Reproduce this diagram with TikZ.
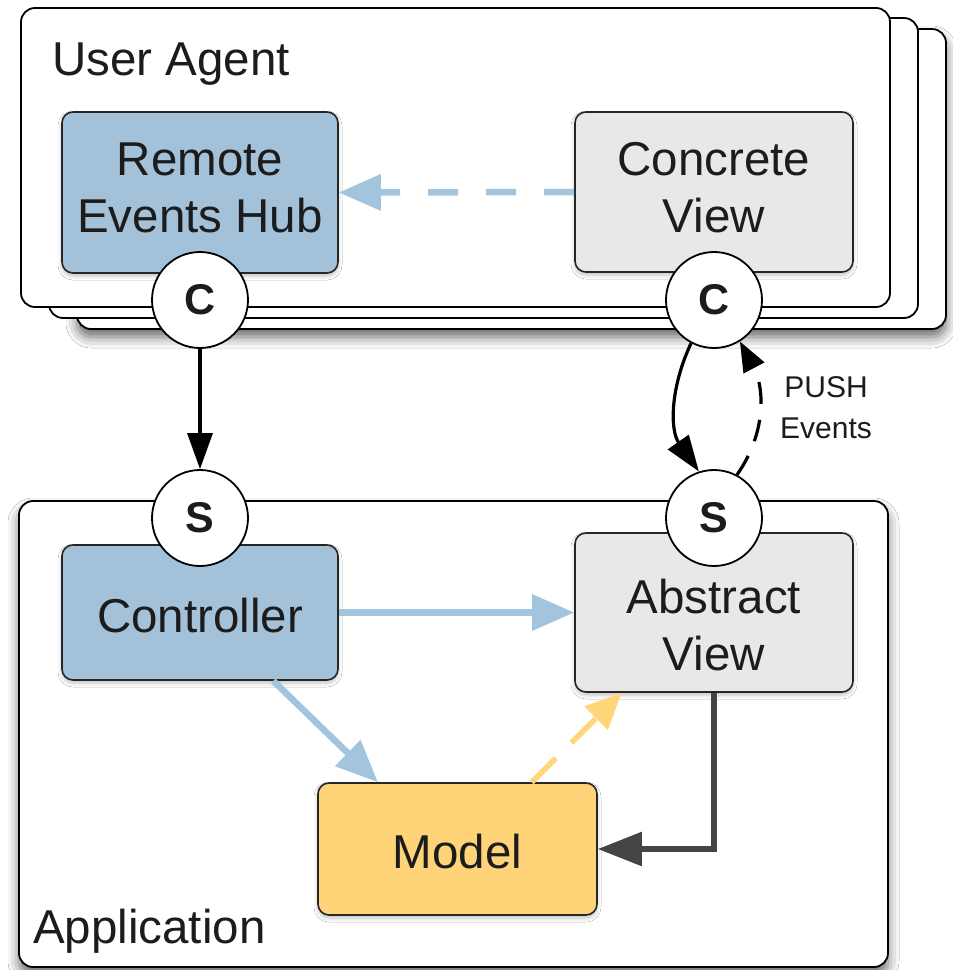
\documentclass[tikz,border=0pt]{standalone}
\usepackage{fontspec}
\setmainfont{Liberation Sans}
\usetikzlibrary{arrows.meta,shadows.blur}
\definecolor{hubblue}{RGB}{163,193,217}
\definecolor{viewgray}{RGB}{232,232,232}
\definecolor{modelyel}{RGB}{255,212,121}
\definecolor{arrblue}{RGB}{162,196,220}
\definecolor{arryel}{RGB}{255,214,120}
\definecolor{darkarr}{RGB}{68,68,68}
\definecolor{txt}{RGB}{28,28,28}
\begin{document}
\begin{tikzpicture}[x=1pt,y=-1pt,
  outer/.style={draw=black, line width=1.8pt, fill=white, rounded corners=14pt, inner sep=0pt},
  outershadow/.style={blur shadow={shadow xshift=0pt, shadow yshift=-8pt, shadow blur radius=11pt, shadow opacity=60}},
  comp/.style={draw=black!85, line width=1.6pt, rounded corners=11pt, inner sep=0pt,
    blur shadow={shadow xshift=0pt, shadow yshift=-3pt, shadow blur radius=4pt, shadow opacity=25}},
  comptext/.style={align=center, font=\fontsize{47.5}{57}\selectfont, text=txt, inner sep=0pt},
  port/.style={circle, draw=black, line width=1.8pt, fill=white, minimum size=96pt, inner sep=0pt,
    font=\bfseries\fontsize{43}{43}\selectfont, text=txt},
  lbl/.style={anchor=base west, font=\fontsize{47.5}{57}\selectfont, text=txt, inner sep=0pt},
  bluearrow/.style={draw=arrblue, line width=6.5pt, -{Triangle[length=42pt,width=35pt]}},
  bluedash/.style={bluearrow, dash pattern=on 30pt off 28pt},
  yeldash/.style={draw=arryel, line width=5.5pt, dash pattern=on 34pt off 22pt, -{Triangle[length=36pt,width=32pt]}},
  darkarrow/.style={draw=darkarr, line width=5.5pt, -{Triangle[length=44pt,width=33pt]}},
  blackarrow/.style={draw=black, line width=3.2pt, -{Triangle[length=36pt,width=25pt]}},
  pushdash/.style={draw=black, line width=3.2pt, dash pattern=on 22pt off 16pt, -{Triangle[length=30pt,width=23pt]}}
]
\useasboundingbox (0,0) rectangle (953,970);
\fill[white] (0,0) rectangle (953,970);

% User agent stack
\node[outer, outershadow, minimum width=869pt, minimum height=300pt] (ua3) at (511.5,179) {};
\node[outer, minimum width=869pt, minimum height=300pt] (ua2) at (483.5,168) {};
\node[outer, minimum width=869pt, minimum height=299pt] (ua) at (455.5,157.5) {};
\node[lbl] (ualbl) at (52,75) {User Agent};

% Application
\node[outer, outershadow, minimum width=869pt, minimum height=466pt] (app) at (453.5,734) {};
\node[lbl] (applbl) at (33,943) {Application};

% Components
\node[comp, fill=hubblue, minimum width=276pt, minimum height=161pt] (hub) at (200,192.5) {};
\node[comptext] (hubtxt) at (200,187.5) {Remote\\Events Hub};
\node[comp, fill=viewgray, minimum width=278pt, minimum height=160pt] (cv) at (714,192) {};
\node[comptext] (cvtxt) at (714,187.5) {Concrete\\View};
\node[comp, fill=hubblue, minimum width=276pt, minimum height=135pt] (ctrl) at (200,612.5) {};
\node[comptext] (ctrltxt) at (200,615.5) {Controller};
\node[comp, fill=viewgray, minimum width=278pt, minimum height=159pt] (av) at (714,612.5) {};
\node[comptext] (avtxt) at (714,625.5) {Abstract\\View};
\node[comp, fill=modelyel, minimum width=279pt, minimum height=132pt] (model) at (457.5,849) {};
\node[comptext] (modeltxt) at (457.5,852) {Model};

% Ports
\node[port] (c1) at (200,300) {C};
\node[port] (c2) at (714,300) {C};
\node[port] (s1) at (200,518) {S};
\node[port] (s2) at (714,518) {S};

% Connectors
\draw[bluedash] (cv.west) -- (hub.east);
\draw[blackarrow] (c1.south) -- (s1.north);
\draw[blackarrow] (c2.242) to[out=245, in=125] (s2.108);
\draw[pushdash] (s2.62) to[out=55, in=-62] (c2.-58);
\node[font=\fontsize{30}{41}\selectfont, align=center, text=txt, inner sep=0pt] (pushlbl) at (826,408) {PUSH\\Events};

\draw[bluearrow] (ctrl.east) -- (av.west);
\draw[bluearrow] (ctrl.-43) -- (model.140);
\draw[yeldash] (model.42) -- (av.-139);
\draw[darkarrow] (av.south) |- (model.east);
\end{tikzpicture}
\end{document}
